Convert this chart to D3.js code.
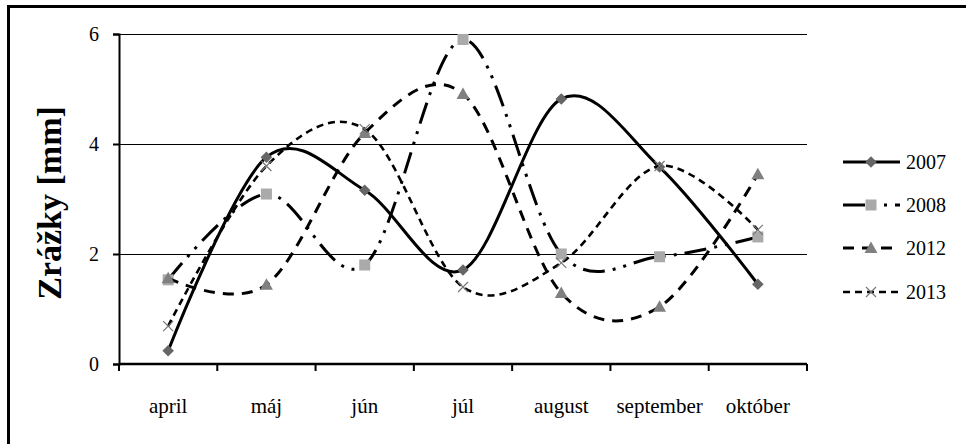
<!DOCTYPE html>
<html><head><meta charset="utf-8">
<script src="https://cdn.jsdelivr.net/npm/d3@7/dist/d3.min.js"></script>
<style>body{margin:0;background:#fff}svg{display:block}</style>
</head><body><svg id="c" width="966" height="444"></svg>
<script>
const months = ["april","máj","jún","júl","august","september","október"];
const years = ["2007","2008","2012","2013"];
const v2007 = [0.24,3.76,3.16,1.71,4.82,3.58,1.45];
const v2008 = [1.53,3.09,1.80,5.90,2.00,1.95,2.31];
const v2012 = [1.56,1.44,4.20,4.91,1.29,1.04,3.45];
const v2013 = [0.69,3.60,4.27,1.40,1.84,3.60,2.44];
const yTicks = [0,2,4,6];

const seriesValues = [v2007,v2008,v2012,v2013];
const styles = [
  {dash:null, w:3, marker:"diamond", fill:"#666666"},
  {dash:"22,8,3,8,3,8", w:3, marker:"square", fill:"#aaaaaa"},
  {dash:"11,8", w:3, marker:"triangle", fill:"#808080"},
  {dash:"7,5", w:2.6, marker:"cross", fill:"#777777"}
];

const svg = d3.select("#c");
const font = "'Liberation Serif','Times New Roman',serif";
const L = 119, R = 807, T = 34, B = 364;

svg.append("rect").attr("x",8.5).attr("y",6.5).attr("width",970).attr("height",450)
  .attr("fill","none").attr("stroke","#000").attr("stroke-width",3);

const x = d3.scaleBand().domain(months).range([L,R]);
const y = d3.scaleLinear().domain([0,6]).range([B,T]);

// gridlines
svg.append("g").selectAll("line").data(yTicks.filter(d=>d>0)).join("line")
  .attr("x1",L).attr("x2",R).attr("y1",d=>y(d)+0.5).attr("y2",d=>y(d)+0.5)
  .attr("stroke","#000").attr("stroke-width",1.2);

// y axis
const ya = svg.append("g").attr("transform",`translate(${L},0)`)
  .call(d3.axisLeft(y).tickValues(yTicks).tickFormat(d3.format("d")).tickSize(6).tickPadding(14));
ya.select(".domain").attr("stroke-width",2);
ya.selectAll(".tick line").attr("stroke-width",2);
ya.selectAll("text").attr("font-family",font).attr("font-size",20).attr("fill","#000");

// x axis
const xa = svg.append("g").attr("transform",`translate(0,${B})`)
  .call(d3.axisBottom(x).tickSize(0).tickPadding(34));
xa.select(".domain").attr("stroke-width",2.5).attr("d",`M${L},0H${R}`);
xa.selectAll("text").attr("font-family",font).attr("font-size",21).attr("fill","#000");
const bounds = months.map(m=>x(m)).concat([R]);
svg.append("g").selectAll("line").data(bounds).join("line")
  .attr("x1",d=>d).attr("x2",d=>d).attr("y1",B).attr("y2",B+7)
  .attr("stroke","#000").attr("stroke-width",2);

// y title
svg.append("text").attr("transform","translate(61,203) rotate(-90)")
  .attr("text-anchor","middle").attr("font-family",font).attr("font-weight","bold")
  .attr("font-size",34).text("Zrážky [mm]");

const cx = m => x(m) + x.bandwidth()/2;
const line = d3.line().x((d,i)=>cx(months[i])).y(d=>y(d)).curve(d3.curveCatmullRom.alpha(0));

function drawMarker(g, type, px, py, fill){
  if(type==="diamond"){
    g.append("path").attr("d",d3.symbol().type(d3.symbolDiamond2).size(85)()).attr("transform",`translate(${px},${py})`)
     .attr("fill",fill);
  } else if(type==="square"){
    g.append("rect").attr("x",px-5.5).attr("y",py-5.5).attr("width",11).attr("height",11).attr("fill",fill);
  } else if(type==="triangle"){
    g.append("path").attr("d",`M${px},${py-6.5}L${px+6.5},${py+5}L${px-6.5},${py+5}Z`).attr("fill",fill);
  } else {
    g.append("path").attr("d",`M${px-5},${py-5}L${px+5},${py+5}M${px-5},${py+5}L${px+5},${py-5}`)
     .attr("stroke",fill).attr("stroke-width",1.2).attr("fill","none");
  }
}

seriesValues.forEach((vals,si)=>{
  const st = styles[si];
  const g = svg.append("g");
  g.append("path").attr("d",line(vals)).attr("fill","none").attr("stroke","#000")
   .attr("stroke-width",st.w).attr("stroke-dasharray",st.dash);
  vals.forEach((v,i)=>drawMarker(g, st.marker, cx(months[i]), y(v), st.fill));
});

// legend
const legY = [162,205,248,292];
years.forEach((yr,i)=>{
  const st = styles[i];
  const g = svg.append("g");
  g.append("line").attr("x1",843).attr("x2",900).attr("y1",legY[i]).attr("y2",legY[i])
   .attr("stroke","#000").attr("stroke-width",st.w).attr("stroke-dasharray",st.dash);
  drawMarker(g, st.marker, 871, legY[i], st.fill);
  g.append("text").attr("x",906).attr("y",legY[i]).attr("dy","0.35em")
   .attr("font-family",font).attr("font-size",20).text(yr);
});
</script></body></html>
